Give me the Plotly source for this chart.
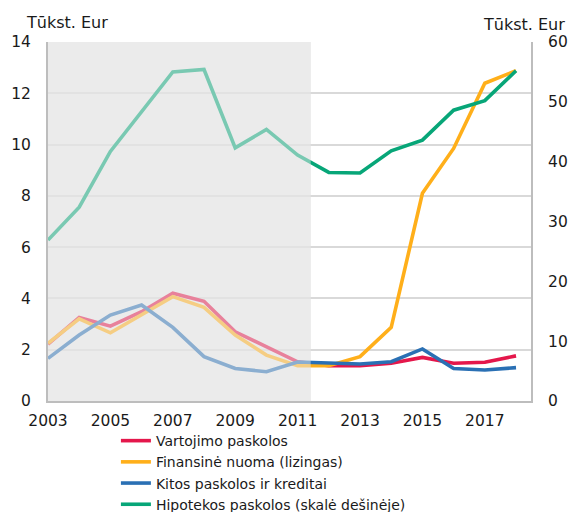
import plotly.graph_objects as go

years = list(range(2003, 2019))
vartojimo = [2.22, 3.26, 2.92, 3.48, 4.20, 3.89, 2.70, 2.12, 1.53, 1.38, 1.38, 1.47, 1.70, 1.47, 1.51, 1.76]
finansine = [2.25, 3.20, 2.66, 3.35, 4.07, 3.65, 2.57, 1.79, 1.38, 1.38, 1.73, 2.87, 8.10, 9.85, 12.39, 12.88]
kitos = [1.66, 2.57, 3.35, 3.74, 2.87, 1.73, 1.27, 1.14, 1.52, 1.49, 1.44, 1.53, 2.03, 1.27, 1.21, 1.30]
hipotekos = [26.9, 32.4, 41.7, 48.4, 55.0, 55.4, 42.3, 45.4, 41.1, 38.2, 38.1, 41.8, 43.6, 48.6, 50.2, 55.2]

names = ["Vartojimo paskolos", "Finansinė nuoma (lizingas)", "Kitos paskolos ir kreditai",
         "Hipotekos paskolos (skalė dešinėje)"]
colors = ["#E4174B", "#FFAF1A", "#2A70B4", "#07A678"]
x_ticks = [2003, 2005, 2007, 2009, 2011, 2013, 2015, 2017]
shade_end = 2011.42

FONT = "DejaVu Sans"
fig = go.Figure()
for vals, name, col, ax in zip([vartojimo, finansine, kitos, hipotekos], names, colors,
                               ["y", "y", "y", "y2"]):
    fig.add_trace(go.Scatter(x=years, y=vals, name=name, mode="lines",
                             line=dict(color=col, width=3.6), yaxis=ax))

fig.add_shape(type="rect", xref="x", yref="paper", x0=2003, x1=shade_end, y0=0, y1=1,
              fillcolor="#EBEBEB", line_width=0, layer="below")
fig.add_shape(type="rect", xref="x", yref="paper", x0=2003, x1=shade_end, y0=0, y1=1,
              fillcolor="rgba(235,235,235,0.5)", line_width=0, layer="above")

fig.add_annotation(text="Tūkst. Eur", xref="paper", yref="paper", x=-0.0497, y=1.021,
                   xanchor="left", yanchor="bottom", showarrow=False,
                   font=dict(family=FONT, size=16, color="#1a1a1a"))
fig.add_annotation(text="Tūkst. Eur", xref="paper", yref="paper", x=1.074, y=1.016,
                   xanchor="right", yanchor="bottom", showarrow=False,
                   font=dict(family=FONT, size=16, color="#1a1a1a"))

fig.update_layout(
    width=568, height=512,
    margin=dict(l=48, r=37, t=42, b=111, autoexpand=False),
    plot_bgcolor="white", paper_bgcolor="white",
    font=dict(family=FONT, size=15.5, color="#1a1a1a"),
    showlegend=True,
    legend=dict(x=0.1406, y=-0.067, xanchor="left", yanchor="top", orientation="v",
                font=dict(family=FONT, size=14, color="#1a1a1a"),
                tracegroupgap=0, bgcolor="rgba(0,0,0,0)"),
    xaxis=dict(range=[2003, 2018.48], tickvals=x_ticks, ticks="", showgrid=False,
               showline=True, linecolor="#BDBDBD", linewidth=2, zeroline=False,
               ticklabelstandoff=4, fixedrange=True),
    yaxis=dict(range=[0, 14], dtick=2, tick0=0, ticks="", showgrid=True,
               gridcolor="#D9D9D9", gridwidth=1.5, showline=True, linecolor="#BDBDBD",
               linewidth=2, zeroline=False, ticklabelstandoff=12),
    yaxis2=dict(range=[0, 60], dtick=10, tick0=0, ticks="", overlaying="y", side="right",
                showgrid=False, showline=True, linecolor="#BDBDBD", linewidth=2,
                zeroline=False, ticklabelstandoff=12),
)

fig.write_html("out.html", config={"displayModeBar": False},
               post_script="document.body.style.margin='0';document.body.style.overflow='hidden';")
